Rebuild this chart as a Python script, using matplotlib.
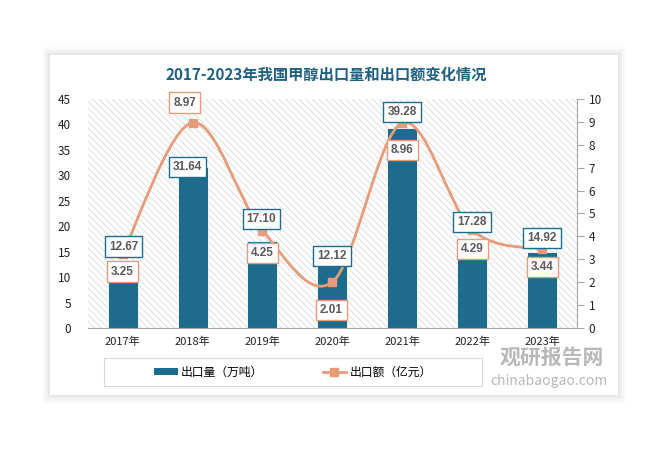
#2017-2023年我国甲醇出口量和出口额变化情况
import matplotlib
matplotlib.use('Agg')
import matplotlib.pyplot as plt
from matplotlib.patches import Rectangle, Patch
from matplotlib.path import Path
from matplotlib.patches import PathPatch
from matplotlib.lines import Line2D

plt.rcParams['font.family'] = ['Noto Sans CJK SC', 'DejaVu Sans']

years = ['2017年', '2018年', '2019年', '2020年', '2021年', '2022年', '2023年']
export_volume = [12.67, 31.64, 17.10, 12.12, 39.28, 17.28, 14.92]   # 万吨
export_value = [3.25, 8.97, 4.25, 2.01, 8.96, 4.29, 3.44]          # 亿元

# label offsets in pixels (dx, dy), dy positive = up
vol_offsets = [(1, 17), (-5, 0), (-1, 22), (0, 10), (0, 16), (0, 18), (0, 14)]
val_offsets = [(0, -18), (-8, 20), (0, -22), (-1, -28), (0, -27), (0, -19), (0, -18)]

BLUE = '#1D6B8D'
ORANGE = '#E89B79'
TEXT_GRAY = '#595959'

W, H = 671, 454
fig = plt.figure(figsize=(W / 100, H / 100), dpi=100)
fig.patch.set_facecolor('white')

# card with soft shadow
cx0, cy0, cx1, cy1 = 50, 55, 618, 395
for k, a in [(8, 0.03), (6, 0.04), (4, 0.05), (2, 0.07)]:
    fig.patches.append(Rectangle(((cx0 - k) / W, 1 - (cy1 + k) / H),
                                 (cx1 - cx0 + 2 * k) / W, (cy1 - cy0 + 2 * k) / H,
                                 transform=fig.transFigure, fc='#808080', ec='none',
                                 alpha=a, zorder=0))
fig.patches.append(Rectangle((cx0 / W, 1 - cy1 / H), (cx1 - cx0) / W, (cy1 - cy0) / H,
                             transform=fig.transFigure, fc='white', ec='none', zorder=1))

ax = fig.add_axes([87.7 / W, 1 - 328 / H, (577 - 87.7) / W, (328 - 99) / H])
ax.set_zorder(2)
ax.patch.set_visible(False)
plt.rcParams['hatch.linewidth'] = 0.5
ax.add_patch(Rectangle((0, 0), 1, 1, transform=ax.transAxes, fc='none',
                       ec='#d2d2d2', hatch='\\' * 5, lw=0, zorder=0))

x = list(range(len(years)))
ax.bar(x, export_volume, width=0.43, color=BLUE, edgecolor='white', linewidth=0.6, zorder=2)
ax.set_xlim(-0.5, len(years) - 0.5)
ax.set_ylim(0, 45)
ax.set_yticks(range(0, 46, 5))
ax.set_xticks(x)
ax.set_xticklabels(years)
ax.tick_params(axis='y', length=0, labelsize=8.5, colors='#222222', pad=12)
ax.tick_params(axis='x', length=0, labelsize=8, colors='#222222', pad=6)
for s in ['top', 'left', 'right']:
    ax.spines[s].set_visible(False)
ax.spines['bottom'].set_color('#a6a6a6')

ax2 = ax.twinx()
ax2.set_ylim(0, 10)
ax2.set_yticks(range(0, 11))
ax2.tick_params(axis='y', length=5, labelsize=8.5, colors='#222222')
ax2.tick_params(axis='y', color='#a6a6a6')
for s in ['top', 'left', 'bottom']:
    ax2.spines[s].set_visible(False)
ax2.spines['right'].set_color('#a6a6a6')

# smoothed line (Bezier through the data points)
pts = list(zip(x, export_value))
verts = [pts[0]]
codes = [Path.MOVETO]
n = len(pts)
for i in range(n - 1):
    p0 = pts[max(i - 1, 0)]
    p1 = pts[i]
    p2 = pts[i + 1]
    p3 = pts[min(i + 2, n - 1)]
    c1 = (p1[0] + (p2[0] - p0[0]) / 6, p1[1] + (p2[1] - p0[1]) / 6)
    c2 = (p2[0] - (p3[0] - p1[0]) / 6, p2[1] - (p3[1] - p1[1]) / 6)
    verts += [c1, c2, p2]
    codes += [Path.CURVE4] * 3
ax2.add_patch(PathPatch(Path(verts, codes), fc='none', ec=ORANGE, lw=2, zorder=3))
ax2.plot(x, export_value, ls='none', marker='s', ms=6, color=ORANGE, zorder=4)

# data labels
for i in x:
    dx, dy = vol_offsets[i]
    ax2.annotate(f'{export_volume[i]:.2f}', xy=(i, export_volume[i]), xycoords=ax.transData,
                 xytext=(dx * 0.72, dy * 0.72), textcoords='offset points',
                 ha='center', va='center', fontsize=8.5, fontweight='bold',
                 family='Liberation Sans', color=TEXT_GRAY, zorder=6,
                 bbox=dict(boxstyle='square,pad=0.35', fc='white', ec=BLUE, lw=1))
    dx, dy = val_offsets[i]
    ax2.annotate(f'{export_value[i]:.2f}', xy=(i, export_value[i]),
                 xytext=(dx * 0.72, dy * 0.72), textcoords='offset points',
                 ha='center', va='center', fontsize=8.5, fontweight='bold',
                 family='Liberation Sans', color=TEXT_GRAY, zorder=6,
                 bbox=dict(boxstyle='square,pad=0.35', fc='white', ec=ORANGE, lw=1))

fig.text(326 / W, 1 - 75 / H, '2017-2023年我国甲醇出口量和出口额变化情况',
         ha='center', va='center', fontsize=11, fontweight='bold', color='#1F5F80', zorder=5)

# legend
fig.patches.append(Rectangle((104 / W, 1 - 386 / H), (482 - 104) / W, 28 / H,
                             transform=fig.transFigure, fc='white', ec='#d9d9d9',
                             lw=0.8, zorder=3))
handles = [Patch(fc=BLUE, ec='none'),
           Line2D([], [], color=ORANGE, lw=2, marker='s', ms=6)]
leg = fig.legend(handles, ['出口量（万吨）', '出口额（亿元）'], loc='center',
                 bbox_to_anchor=(293 / W, 1 - 372 / H), ncol=2, frameon=False,
                 fontsize=8.5, handlelength=2.0, handleheight=0.5, columnspacing=5.0,
                 handletextpad=0.3)
leg.set_zorder(4)

# watermark
fig.text(552 / W, 1 - 357 / H, '观研报告网', ha='center', va='center', fontsize=15,
         fontweight='bold', color='#7f7f7f', alpha=0.55, zorder=6)
fig.text(549 / W, 1 - 381 / H, 'chinabaogao.com', ha='center', va='center', fontsize=10,
         color='#7f7f7f', alpha=0.55, zorder=6)

fig.savefig('out.png', dpi=100)
